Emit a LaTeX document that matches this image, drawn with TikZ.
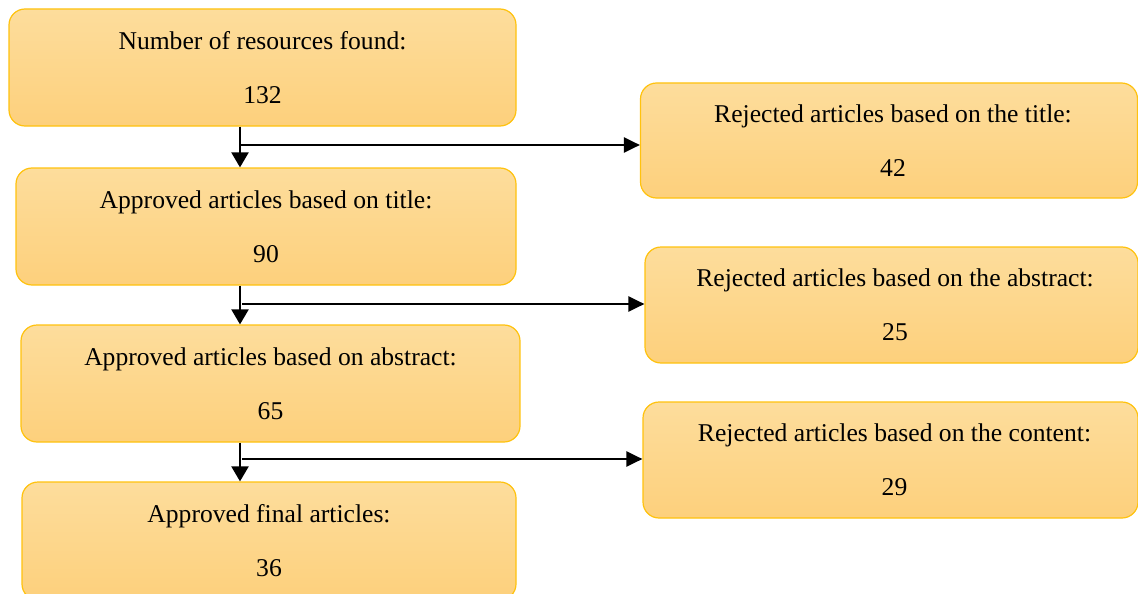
\documentclass[tikz,border=0pt]{standalone}
\usepackage{fontspec}
\setmainfont{Liberation Serif}
\usetikzlibrary{arrows.meta}
\definecolor{boxtop}{HTML}{FDDD9C}
\definecolor{boxbot}{HTML}{FDD07C}
\definecolor{boxline}{HTML}{FFC20E}
\tikzset{
  box/.style={draw=boxline, line width=1.2pt, rounded corners=16pt, top color=boxtop, bottom color=boxbot,
    inner sep=0pt, align=center, font=\fontsize{25.6}{54}\selectfont},
  conn/.style={line width=2.2pt, -{Triangle[length=15pt,width=17pt]}},
  hconn/.style={line width=2.2pt, -{Triangle[length=16pt,width=15pt]}}
}
\begin{document}
\begin{tikzpicture}[x=1pt,y=-1pt]
\useasboundingbox (0,0) rectangle (1138,594);
\node[box, minimum width=507pt, minimum height=117pt] (b1) at (262.5,67.5) {Number of resources found:\\132};
\node[box, minimum width=500pt, minimum height=117pt] (b2) at (266,226.5) {Approved articles based on title:\\90};
\node[box, minimum width=499pt, minimum height=117pt] (b3) at (270.5,383.5) {Approved articles based on abstract:\\65};
\node[box, minimum width=494pt, minimum height=118pt] (b4) at (269,541) {Approved final articles:\\36};
\node[box, minimum width=497pt, minimum height=115pt] (r1) at (889,140.5) {\hspace*{8pt}Rejected articles based on the title:\\\hspace*{8pt}42};
\node[box, minimum width=493pt, minimum height=116pt] (r2) at (891.5,305) {\hspace*{7pt}Rejected articles based on the abstract:\\\hspace*{7pt}25};
\node[box, minimum width=495pt, minimum height=116pt] (r3) at (890.5,460) {\hspace*{8pt}Rejected articles based on the content:\\\hspace*{8pt}29};
\coordinate (v) at (240,0);
\coordinate (j1) at (240,145);
\coordinate (j2) at (242,304);
\coordinate (j3) at (242,459);
\draw[conn] (b1.south -| v) -- (b2.north -| v);
\draw[conn] (b2.south -| v) -- (b3.north -| v);
\draw[conn] (b3.south -| v) -- (b4.north -| v);
\draw[hconn] (j1) -- (j1 -| r1.west);
\draw[hconn] (j2) -- (j2 -| r2.west);
\draw[hconn] (j3) -- (j3 -| r3.west);
\end{tikzpicture}
\end{document}
